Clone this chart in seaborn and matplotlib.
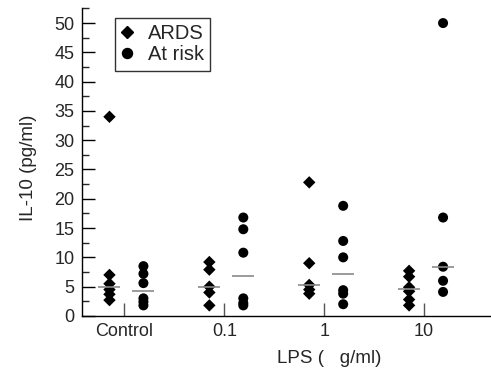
import numpy as np
import pandas as pd
import matplotlib
matplotlib.use("Agg")
import matplotlib.pyplot as plt
from matplotlib.lines import Line2D
from matplotlib.ticker import MultipleLocator
import seaborn as sns

# IL-10 values, one list per LPS dose
categories = ["Control", "0.1", "1", "10"]
ards_values = [
    [34.0, 7.0, 5.5, 4.5, 3.7, 2.7],
    [9.2, 7.9, 5.0, 4.0, 1.8],
    [22.8, 9.0, 5.3, 4.5, 3.8],
    [7.7, 6.7, 4.9, 4.2, 2.8, 1.8],
]
at_risk_values = [
    [8.5, 7.2, 5.6, 3.0, 2.4, 1.8],
    [16.8, 14.8, 10.8, 3.0, 2.2, 1.8],
    [18.8, 12.8, 10.0, 4.4, 3.8, 2.0],
    [50.0, 16.8, 8.4, 6.0, 4.1],
]
groups = ["ARDS", "At risk"]

# long-form table
rows = []
for i, cat in enumerate(categories):
    for g, vals in zip(groups, [ards_values[i], at_risk_values[i]]):
        for v in vals:
            rows.append({"cat": i, "dose": cat, "group": g, "il10": v})
df = pd.DataFrame(rows)

offsets = {"ARDS": -0.15, "At risk": 0.19}
df["xpos"] = df["cat"] + df["group"].map(offsets)

sns.set_theme(style="ticks")
plt.rcParams["font.family"] = ["Liberation Sans", "DejaVu Sans"]

fig = plt.figure(figsize=(4.91, 3.73), dpi=100)
ax = fig.add_axes([0.166, 0.153, 0.834, 0.826])

sns.scatterplot(data=df, x="xpos", y="il10", style="group", size="group",
                markers={"ARDS": "D", "At risk": "o"},
                sizes={"ARDS": 40, "At risk": 52},
                color="black", edgecolor="black", linewidth=0,
                legend=False, ax=ax)

# median bars
med = df.groupby(["cat", "group"])["il10"].median().reset_index()
for _, r in med.iterrows():
    xc = r["cat"] + offsets[r["group"]]
    ax.hlines(r["il10"], xc - 0.11, xc + 0.11, color="#8a8a8a", lw=1.2, zorder=1)

ax.set_xlim(-0.43, 3.67)
ax.set_ylim(0, 52.6)
ax.set_xticks(range(len(categories)))
ax.set_xticklabels(categories)
ax.yaxis.set_major_locator(MultipleLocator(5))
ax.yaxis.set_minor_locator(MultipleLocator(2.5))

ax.tick_params(axis="both", which="major", direction="in", length=9.5,
               width=1, color="black", labelsize=13, pad=5)
ax.tick_params(axis="y", which="minor", direction="in", length=5, width=1)
ax.tick_params(axis="x", which="major", color="#555555")

sns.despine(ax=ax)
for side in ["left", "bottom"]:
    ax.spines[side].set_linewidth(1.0)
    ax.spines[side].set_color("black")

ax.set_xlabel("LPS (   g/ml)", fontsize=13.5)
ax.set_ylabel("IL-10 (pg/ml)", fontsize=13.5)
ax.xaxis.set_label_coords(0.604, -0.11)
ax.yaxis.set_label_coords(-0.108, 0.48)

handles = [
    Line2D([], [], marker="D", color="black", linestyle="none", markersize=6.2),
    Line2D([], [], marker="o", color="black", linestyle="none", markersize=7.2),
]
leg = ax.legend(handles, groups, loc="upper left",
                bbox_to_anchor=(0.0825, 0.967), borderaxespad=0,
                frameon=True, fancybox=False, edgecolor="black",
                fontsize=14.5, handlelength=0.6, handletextpad=0.7,
                labelspacing=0.12, borderpad=0.3)
leg.get_frame().set_linewidth(1.0)

fig.savefig("out.png", dpi=100)
